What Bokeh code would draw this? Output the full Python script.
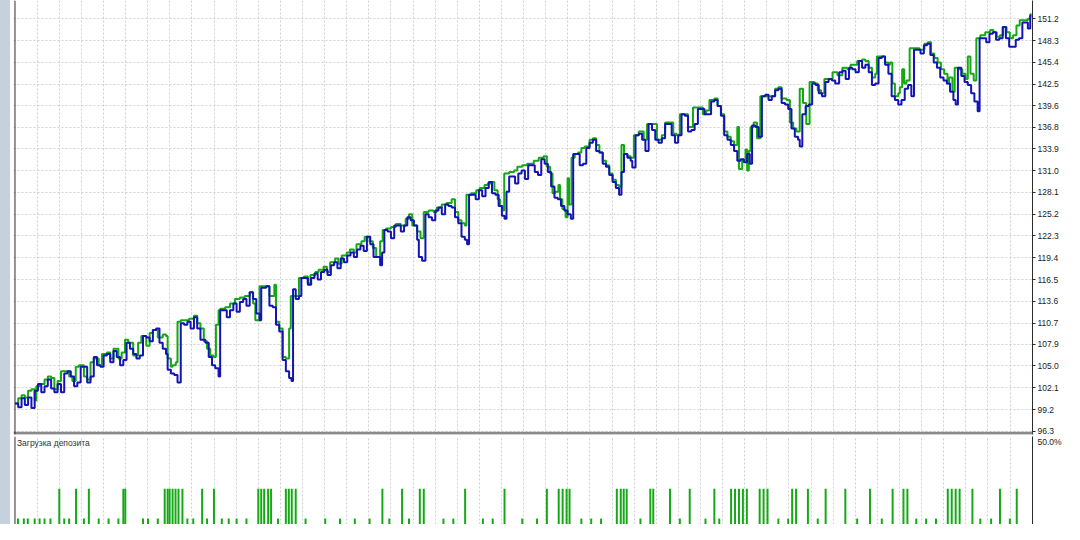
from bokeh.plotting import figure
from bokeh.models import Range1d, FixedTicker, Span, Label, Div, NumeralTickFormatter
from bokeh.layouts import row, column
from bokeh.embed import file_html
from bokeh.resources import INLINE

# ---- data (x = position along the test, y = account value) ----
balance = [
    (0, 100.0), (3.3, 99.5), (6.7, 100.7), (10, 99.8), (13.3, 100.8), (16.7, 99.4), (20, 101.7), (23.3, 102.6),
    (26.7, 101.5), (30, 102.3), (33.3, 103.2), (36.7, 102.0), (40, 101.5), (43.3, 102.6), (46.7, 101.5), (50, 104.0),
    (53.3, 104.3), (56.7, 103.6), (60, 102.3), (63.3, 102.8), (66.7, 104.9), (73.3, 102.8), (76.7, 103.6), (80, 106.2),
    (83.3, 105.1), (86.7, 104.9), (90, 106.4), (93.3, 106.6), (96.7, 105.5), (100, 107.0), (103.3, 106.2), (106.7, 105.1),
    (110, 105.8), (113.3, 108.1), (116.7, 107.3), (120, 106.6), (123.3, 106.0), (126.7, 106.4), (130, 109.0), (133.3, 108.8),
    (136.7, 108.3), (140, 109.8), (143.3, 110.0), (146.7, 108.1), (150, 107.3), (153.3, 106.6), (155, 104.5), (158.3, 104.0),
    (161.7, 103.8), (165, 102.8), (168.3, 110.7), (171.7, 110.5), (175, 110.9), (178.3, 110.0), (181.7, 111.5), (185, 110.0),
    (188.3, 108.5), (193.3, 108.1), (196.7, 106.2), (200, 105.1), (203.3, 104.7), (206.7, 103.6), (208.3, 112.4), (215, 111.5),
    (218.3, 112.4), (221.7, 113.3), (225, 112.2), (228.3, 113.5), (231.7, 113.9), (235, 113.0), (238.3, 114.8), (241.7, 113.9),
    (245, 112.0), (248.3, 111.1), (250, 115.4), (255, 115.6), (258.3, 113.0), (261.7, 112.8), (265, 110.5), (268.3, 109.6),
    (271.7, 105.8), (275, 104.3), (278.3, 103.4), (280.7, 103.0), (282.3, 115.2), (285, 113.9), (288.3, 114.3), (290.7, 116.7),
    (297.3, 115.8), (300.7, 116.7), (304, 117.3), (307.3, 116.5), (310.7, 117.5), (314, 117.8), (317.3, 117.1), (320.7, 118.4),
    (324, 118.8), (327.3, 118.0), (330.7, 119.3), (334, 118.8), (337.3, 119.7), (340.7, 120.1), (344, 119.5), (347.3, 120.5),
    (350.7, 121.0), (354, 120.3), (357.3, 122.2), (360.7, 121.2), (364, 119.5), (370.7, 118.4), (372.7, 120.1), (375, 123.1),
    (378.3, 122.9), (381.7, 122.0), (385, 123.7), (391.7, 122.9), (395, 123.7), (398.3, 124.8), (401.7, 124.4), (405, 123.7),
    (408.3, 121.8), (410, 119.5), (413.3, 119.0), (416.7, 125.2), (420, 124.8), (423.3, 124.4), (426.7, 125.7), (430, 126.1),
    (433.3, 125.2), (436.7, 126.5), (440, 126.3), (443.3, 126.1), (446.7, 124.8), (450, 124.0), (453.3, 122.2), (456.7, 121.8),
    (459, 121.2), (461, 127.8), (467.7, 127.2), (471, 128.4), (474.3, 127.6), (477.7, 128.7), (481, 129.5), (484.3, 128.0),
    (487.7, 127.8), (491, 126.3), (494.3, 125.0), (497, 124.6), (499, 128.2), (501.7, 130.2), (507.7, 129.3), (511, 130.6),
    (514.3, 131.0), (517.7, 129.9), (521, 131.7), (527.7, 130.8), (531, 130.4), (534.3, 132.5), (537.7, 131.9), (541, 130.8),
    (544.3, 128.9), (547.7, 127.4), (551, 127.2), (554.3, 126.3), (557.7, 125.7), (561, 125.2), (564.3, 124.6), (566.7, 133.2),
    (573.3, 131.7), (576.7, 131.9), (580, 134.0), (583.3, 134.7), (586.7, 135.1), (590, 133.6), (593.3, 133.4), (596.7, 131.9),
    (600, 131.5), (603.3, 130.4), (606.7, 129.5), (610, 128.7), (613.3, 127.8), (615.7, 130.8), (618.3, 133.2), (621.7, 132.7),
    (625, 132.3), (626.7, 131.4), (630, 135.7), (633.3, 135.9), (636.7, 135.1), (640, 133.6), (643.3, 137.2), (646.7, 136.4),
    (650, 135.1), (653.3, 134.7), (656.7, 135.3), (660, 137.2), (666.7, 135.7), (670, 134.7), (673.3, 135.7), (676.7, 138.5),
    (680, 138.3), (683.3, 136.2), (686.7, 136.4), (690, 137.2), (693.3, 139.2), (700, 138.5), (706.7, 140.2), (710, 140.4),
    (713.3, 139.6), (716.7, 138.3), (720, 135.7), (723.3, 135.1), (726.7, 134.4), (730, 133.6), (733.3, 132.3), (736.7, 132.5),
    (740, 132.1), (743.3, 133.2), (746, 131.9), (748.3, 137.0), (751.7, 136.8), (755, 135.5), (758.3, 140.9), (761.7, 141.1),
    (765, 140.4), (768.3, 140.9), (771.7, 141.7), (775, 141.9), (778.3, 140.0), (781.7, 139.8), (785, 139.2), (788.3, 136.6),
    (791.7, 135.5), (795, 135.1), (796.7, 134.2), (799.3, 138.5), (802.7, 139.6), (806, 139.8), (809.3, 142.6), (812.7, 142.4),
    (816, 141.3), (819.3, 140.9), (822.7, 142.8), (826, 143.2), (829.3, 143.0), (832.7, 142.6), (836.7, 144.1), (840, 144.3),
    (843.3, 143.2), (846.7, 144.7), (850, 144.5), (853.3, 144.1), (856.7, 145.6), (860, 144.7), (863.3, 145.1), (866.7, 144.1),
    (870, 142.4), (873.3, 142.6), (876.7, 146.0), (880, 146.2), (883.3, 145.1), (886.7, 143.9), (890, 140.9), (893.3, 140.4),
    (896.7, 139.8), (900, 140.4), (903.3, 141.9), (906.7, 142.4), (910, 140.9), (912.7, 147.1), (919.3, 146.6), (922.7, 147.7),
    (926, 147.9), (929.3, 146.4), (932.7, 145.4), (936, 144.7), (939.3, 143.4), (942.7, 143.0), (946, 142.6), (949.3, 141.5),
    (952.7, 140.4), (955, 139.8), (957.3, 144.7), (960.7, 143.6), (964, 142.8), (967.3, 142.4), (970.7, 141.3), (974, 140.2),
    (977.3, 138.9), (979.3, 148.6), (986, 148.1), (989.3, 149.2), (992.7, 149.4), (996, 148.4), (999.3, 148.6), (1002.7, 150.1),
    (1006, 148.6), (1009.3, 147.5), (1016, 148.4), (1019.3, 148.6), (1022.7, 150.7), (1028.3, 149.9), (1030.7, 151.6), (1032, 151.6),
]

equity = [
    (0, 100.0), (3.3, 100.7), (6.7, 101.1), (10, 100.8), (13.3, 101.7), (16.7, 101.9), (20, 100.4), (21.7, 102.3),
    (25, 102.6), (30, 103.2), (33.3, 103.6), (36.7, 103.4), (40, 101.9), (43.3, 103.0), (46.7, 104.3), (55, 103.6),
    (58.3, 103.0), (61.7, 104.9), (65, 105.1), (70, 103.6), (73.3, 103.2), (76.7, 105.5), (80, 106.0), (85, 105.1),
    (88.3, 106.6), (93.3, 106.8), (96.7, 106.0), (100, 107.3), (105, 106.0), (108.3, 106.8), (111.7, 108.5), (115, 108.1),
    (120, 106.4), (125, 108.1), (128.3, 109.0), (133.3, 107.7), (136.7, 109.4), (140, 109.8), (145, 108.8), (150, 109.2),
    (153.3, 109.0), (155, 106.0), (158.3, 104.9), (160, 105.1), (163.3, 105.5), (165, 110.9), (168.3, 111.1), (176.7, 111.3),
    (181.7, 111.7), (185, 110.7), (188.3, 110.0), (191.7, 108.3), (195, 107.3), (198.3, 106.4), (201.7, 106.2), (204, 110.5),
    (206.7, 112.4), (208.3, 112.6), (213.3, 112.8), (218.3, 113.3), (223.3, 113.9), (228.3, 114.1), (233.3, 114.3), (238.3, 114.8),
    (241.7, 113.3), (244, 111.1), (248.3, 115.6), (258.3, 114.3), (263.3, 115.8), (265, 110.9), (268.3, 110.0), (271.7, 106.2),
    (275, 106.0), (278.3, 110.0), (280, 114.3), (288.3, 116.7), (293.3, 116.9), (297.3, 116.0), (300, 117.1), (305, 117.5),
    (308.3, 117.8), (313.3, 118.2), (316.7, 117.5), (320, 118.8), (325, 119.3), (328.3, 118.6), (331.7, 119.7), (336.7, 120.1),
    (340, 120.5), (344, 120.1), (346.7, 121.2), (351.7, 121.6), (355, 122.2), (360, 121.6), (363.3, 120.7), (366.7, 119.5),
    (370.7, 121.6), (373.3, 123.1), (376.7, 123.3), (381.7, 123.5), (386.7, 123.9), (391.7, 123.7), (396.7, 124.6), (400, 125.2),
    (403.3, 123.7), (408.3, 122.9), (411.7, 122.0), (415, 125.5), (420, 125.7), (425, 125.5), (428.3, 126.1), (433.3, 126.5),
    (438.3, 126.7), (443.3, 127.2), (446.7, 125.5), (450, 124.4), (453.3, 124.0), (456.7, 123.7), (458.3, 127.8), (463.3, 128.0),
    (468.3, 128.4), (471.7, 128.7), (476.7, 129.1), (480, 129.3), (483.3, 129.5), (486.7, 128.4), (490, 127.2), (492.3, 126.3),
    (495, 125.7), (496.7, 130.6), (501.7, 130.8), (506.7, 131.0), (510, 131.5), (515, 131.7), (520, 131.9), (526.7, 132.3),
    (531.7, 132.7), (536.7, 132.9), (540, 131.5), (543.3, 130.6), (545.7, 128.0), (548.3, 128.2), (551.7, 129.1), (553.3, 127.2),
    (555.7, 125.9), (558.3, 125.7), (559, 124.8), (561, 130.0), (562.5, 126.5), (565, 132.7), (568.3, 133.2), (571.7, 133.4),
    (575, 134.0), (578.3, 134.2), (583.3, 135.1), (586.7, 135.3), (590, 134.4), (593.3, 133.4), (596.7, 132.3), (600, 131.7),
    (603.3, 130.6), (606.7, 129.8), (610, 129.1), (613.3, 128.9), (615.7, 134.4), (618.3, 133.2), (621.7, 132.9), (625, 132.7),
    (628.3, 135.7), (633.3, 136.2), (638.3, 135.1), (641.7, 137.2), (651.7, 135.1), (656.7, 135.7), (660, 137.4), (668.3, 135.9),
    (671.7, 135.7), (675, 138.5), (683.3, 136.8), (688.3, 139.4), (698.3, 138.5), (701.7, 139.0), (705, 140.4), (710, 140.6),
    (713.3, 139.6), (716.7, 138.5), (720, 136.2), (723.3, 135.5), (726.7, 134.9), (730, 134.4), (733.3, 136.8), (735, 131.2),
    (738.3, 132.3), (741.7, 133.8), (743.3, 131.0), (745, 133.6), (746.7, 136.8), (750, 137.4), (753.3, 135.3), (756.7, 140.9),
    (771.7, 141.9), (775, 142.1), (778.3, 140.6), (783.3, 140.4), (786.7, 137.4), (790, 136.6), (793.3, 136.2), (796.7, 141.9),
    (800, 140.0), (803.3, 137.2), (806.7, 142.8), (811.7, 142.6), (815, 141.7), (818.3, 141.3), (821.7, 143.2), (830, 144.1),
    (835, 143.7), (840, 144.7), (845, 144.5), (848.3, 145.1), (855, 145.6), (860, 145.8), (863.3, 145.6), (866.7, 144.7),
    (870, 143.4), (873.3, 143.9), (875, 146.2), (883.3, 145.4), (886.7, 145.1), (888.3, 145.4), (890.7, 142.6), (893.3, 140.9),
    (896.7, 141.3), (898.3, 142.1), (900.7, 144.5), (902.7, 142.6), (905, 143.0), (908.3, 147.3), (918.3, 147.1), (923.3, 147.9),
    (926.7, 148.1), (930, 146.6), (933.3, 146.0), (936.7, 145.4), (940, 144.5), (943.3, 143.9), (946.7, 142.6), (948.3, 143.4),
    (951.7, 141.5), (954, 144.7), (958.3, 144.5), (961.7, 143.9), (965, 143.2), (967.3, 146.2), (970, 143.9), (973.3, 143.0),
    (976, 148.6), (980, 149.0), (985, 149.4), (990, 149.7), (993.3, 149.4), (996.7, 148.8), (1000, 149.0), (1003.3, 150.1),
    (1006.7, 149.4), (1010, 148.6), (1013.3, 149.0), (1016.7, 150.3), (1020, 151.0), (1028.3, 151.2), (1030.7, 151.8), (1032, 151.8),
]

# deposit load (%) per position
load_x = [3, 9, 13, 20, 25, 30, 36, 45, 50, 55, 62, 70, 75, 85, 95, 105, 110, 112, 130, 135, 145, 152, 155, 157, 160, 163,
          166, 170, 175, 181, 190, 195, 202, 210, 217, 225, 235, 247, 250, 253, 257, 260, 267, 275, 278, 281, 285, 295, 315,
          330, 345, 360, 373, 380, 393, 400, 411, 415, 435, 445, 457, 475, 485, 497, 515, 530, 540, 552, 556, 560, 563, 575,
          585, 595, 611, 615, 618, 621, 635, 645, 648, 665, 675, 685, 701, 710, 715, 727, 731, 735, 739, 743, 756, 760, 764,
          775, 785, 789, 793, 805, 815, 823, 843, 855, 868, 880, 891, 902, 906, 915, 925, 935, 947, 951, 955, 959, 972, 980,
          991, 1000, 1010, 1017]
load_pct = [24, 24, 24, 24, 24, 24, 24, 34, 24, 24, 34, 24, 34, 24, 24, 24, 34, 34, 24, 24, 24, 34, 34, 34, 34, 34,
            34, 34, 24, 24, 34, 24, 34, 24, 24, 24, 24, 34, 34, 34, 34, 34, 24, 34, 34, 34, 34, 24, 24,
            24, 24, 24, 34, 24, 34, 24, 34, 34, 24, 24, 34, 24, 24, 34, 24, 24, 34, 34, 34, 34, 34, 24,
            24, 24, 34, 34, 34, 34, 24, 34, 34, 34, 24, 34, 24, 34, 24, 34, 34, 34, 34, 34, 34, 34, 34,
            24, 24, 34, 34, 34, 24, 34, 34, 24, 34, 24, 34, 34, 34, 24, 24, 24, 34, 34, 34, 34, 34, 24,
            24, 34, 24, 34]

y_tick_labels = ["96.3", "99.2", "102.1", "105.0", "107.9", "110.7", "113.6", "116.5", "119.4", "122.3",
                 "125.2", "128.1", "131.0", "133.9", "136.8", "139.6", "142.5", "145.4", "148.3", "151.2"]
y_ticks = [float(s) for s in y_tick_labels]
panel_title = "Загрузка депозита"

# ---- layout / style ----
FONT = "Liberation Sans"
AXIS_COL = "#2b2b2b"
GRID_COL = "#d0d0d0"
BLUE = "#1414b4"
GREEN = "#14a814"
x_grid = [22.45 * k for k in range(1, 47)]

xr = Range1d(-1.5, 1033)

top = figure(width=1054, height=436, x_range=xr, y_range=Range1d(95.88, 153.64),
             output_backend="svg", toolbar_location=None, y_axis_location="right",
             x_axis_location=None, min_border_left=3, min_border_top=0, min_border_bottom=2,
             min_border_right=31, outline_line_color=None)
top.xgrid.ticker = FixedTicker(ticks=x_grid)
for g in (top.xgrid, top.ygrid):
    g.grid_line_color = GRID_COL
    g.grid_line_dash = "2 2"
    g.grid_line_width = 1
ax = top.yaxis[0]
ax.ticker = FixedTicker(ticks=y_ticks)
ax.formatter = NumeralTickFormatter(format="0.0")
ax.major_tick_in = 0
ax.major_tick_out = 3
ax.minor_tick_out = 0
ax.minor_tick_in = 0
ax.axis_line_color = AXIS_COL
ax.major_tick_line_color = AXIS_COL
ax.major_label_text_font = FONT
ax.major_label_text_font_size = "8.5px"
ax.major_label_text_color = "#222222"
ax.major_label_standoff = 2

ex, ey = zip(*equity)
bx, by = zip(*balance)
top.step(list(ex), list(ey), mode="after", line_color=GREEN, line_width=2)
top.step(list(bx), list(by), mode="after", line_color=BLUE, line_width=2)

top.add_layout(Span(location=96.05, dimension="width", line_color="#8a8a8a", line_width=3))
top.add_layout(Span(location=0, dimension="height", line_color=AXIS_COL, line_width=1))

bot = figure(width=1054, height=88, x_range=xr, y_range=Range1d(22, 51.6),
             output_backend="svg", toolbar_location=None, y_axis_location="right",
             x_axis_location=None, min_border_left=3, min_border_top=0, min_border_bottom=0,
             min_border_right=31, outline_line_color=None)
bot.xgrid.ticker = FixedTicker(ticks=x_grid)
bot.xgrid.grid_line_color = GRID_COL
bot.xgrid.grid_line_dash = "2 2"
bot.ygrid.grid_line_color = None
bx2 = bot.yaxis[0]
bx2.ticker = FixedTicker(ticks=[50])
bx2.major_label_overrides = {50: "50.0%"}
bx2.major_tick_in = 0
bx2.major_tick_out = 0
bx2.minor_tick_out = 0
bx2.minor_tick_in = 0
bx2.axis_line_color = AXIS_COL
bx2.major_label_text_font = FONT
bx2.major_label_text_font_size = "8.5px"
bx2.major_label_text_color = "#222222"
bx2.major_label_standoff = 5

bot.vbar(x=load_x, top=load_pct, bottom=0, width=2, fill_color=GREEN, line_color=None)
bot.add_layout(Span(location=0, dimension="height", line_color=AXIS_COL, line_width=1))
bot.add_layout(Label(x=2, y=51.0, text=panel_title, text_baseline="top", text_font=FONT,
                     text_font_size="8.5px", text_color="#333333"))

strip = Div(text="", width=10, height=524, margin=0, styles={"background-color": "#c5d2de"})

p = row(strip, column(top, bot, spacing=0), spacing=0)

open("out.html", "w").write(file_html(p, INLINE, title="Strategy tester"))
